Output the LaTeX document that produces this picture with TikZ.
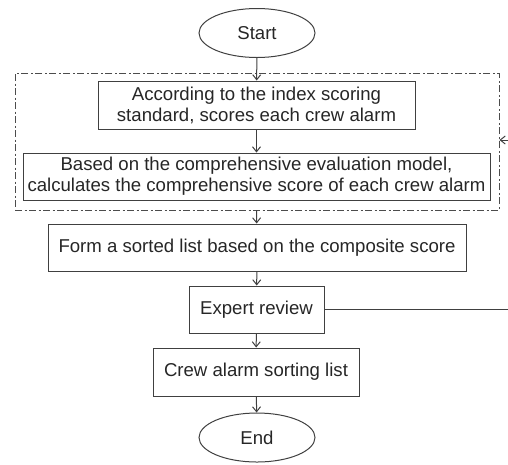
\documentclass[tikz,border=0pt]{standalone}
\usepackage{fontspec}
\setmainfont{Liberation Sans}
\usetikzlibrary{arrows.meta,shapes.geometric}

\begin{document}
\begin{tikzpicture}[x=1pt,y=-1pt,
		every node/.style={%
			align=center,
			font=\fontsize{18.6}{21}\selectfont,
			text=black!85
		},
		stepbox/.style={draw=black!75, line width=1pt, rectangle},
		terminal/.style={draw=black!75, line width=1pt, ellipse, minimum width=116, minimum height=49},
		groupbox/.style={draw=black!70, line width=0.9pt, dash pattern=on 7pt off 2.5pt on 2pt off 2.5pt},
		flow/.style={draw=black!75, line width=1pt, -{Straight Barb[length=5pt,width=8pt]}}
	]

	\useasboundingbox (0,0) rectangle (508,464);

	\node (start) [terminal] at (257,33) {Start};

	\node (group) [groupbox, minimum width=484, minimum height=137] at (257,141.5) {};

	\node (score) [stepbox, minimum width=317, minimum height=48] at (256.5,105) {%
		According to the index scoring \\
		standard, scores each crew alarm
	};
	\node (calc) [stepbox, minimum width=467, minimum height=47] at (256.5,176.5) {%
		Based on the comprehensive evaluation model, \\
		calculates the comprehensive score of each crew alarm
	};

	\node (sorted) [stepbox, minimum width=418, minimum height=47] at (257,247.5) {Form a sorted list based on the composite score};
	\node (review) [stepbox, minimum width=135, minimum height=47] at (256.5,309.5) {Expert review};
	\node (crew) [stepbox, minimum width=206, minimum height=48] at (256,372) {Crew alarm sorting list};
	\node (end) [terminal] at (257,437.5) {End};

	% feedback line runs off the right edge
	\coordinate (out) at (508,309.5);
	\coordinate (back) at (508,140);

	\draw[flow] (start) -- (score);
	\draw[flow] (score) -- (calc);
	\draw[flow] (group.south -| calc.south) -- (sorted);
	\draw[flow] (sorted) -- (review);
	\draw[flow] (review) -- (crew);
	\draw[flow] (crew) -- (end);
	\draw[draw=black!75, line width=1pt] (review) -- (out);
	\draw[flow] (back) -- (group.east |- back);
\end{tikzpicture}
\end{document}
